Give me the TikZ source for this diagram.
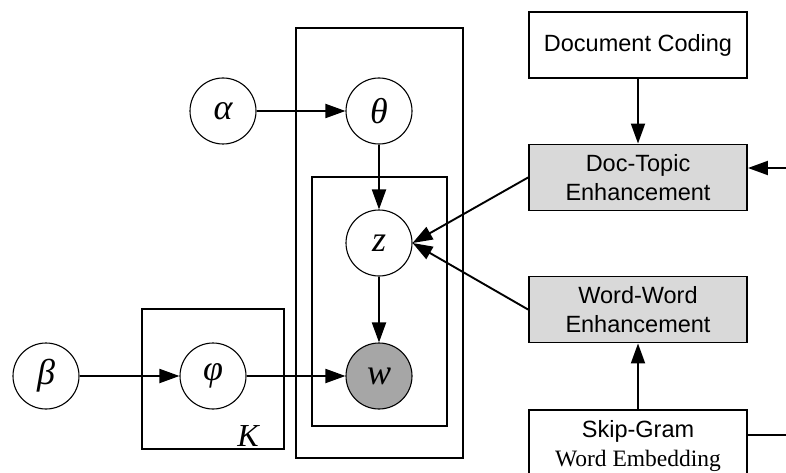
\documentclass[tikz,border=0pt]{standalone}
\usepackage{fontspec}
\setmainfont{Liberation Serif}
\setsansfont{Liberation Sans}
\usetikzlibrary{arrows.meta}

\definecolor{obsgray}{RGB}{166,166,166}
\definecolor{enhgray}{RGB}{217,217,217}

\tikzset{
  var/.style   = {circle, draw, line width=1.1pt, fill=white, minimum size=66pt, inner sep=0pt,
                  font=\fontsize{36}{36}\selectfont\itshape},
  obs/.style   = {var, fill=obsgray},
  block/.style = {rectangle, draw, fill=white, minimum width=218pt, minimum height=66pt,
                  inner sep=0pt, align=center, font=\sffamily\fontsize{23.5}{29}\selectfont},
  enh/.style   = {block, fill=enhgray},
  link/.style  = {-{Triangle[length=20pt,width=14pt]}},
}

\begin{document}
\begin{tikzpicture}[x=1pt, y=-1pt, line width=1.9pt]
            \useasboundingbox (0,0) rectangle (786,473);

            % draw plates
            \draw (142,309) rectangle (284,449);
            \draw (296, 28) rectangle (463,458);
            \draw (312,177) rectangle (447,426);
            \node[font=\fontsize{32}{32}\selectfont\itshape] (kplate) at (248,436) {K};

            % draw variables
            \node[var] (alpha) at (223,111) {α};
            \node[var] (theta) at (379,111) {θ};
            \node[var] (z)     at (379,243) {z};
            \node[obs] (w)     at (379,376) {w};
            \node[var] (beta)  at ( 46,376) {β};
            \node[var] (phi)   at (213,376) {φ};

            % draw enhancement blocks
            \node[block] (doccoding) at (638, 45.0) {Document Coding};
            \node[enh]   (doctopic)  at (638,177.5) {Doc-Topic\\Enhancement};
            \node[enh]   (wordword)  at (638,309.5) {Word-Word\\Enhancement};
            \node[block, anchor=north, minimum height=72pt]
                         (skipgram)  at (638,409.0) {Skip-Gram\\{\rmfamily Word Embedding}};
            \coordinate (dtin)  at (786,168);
            \coordinate (sgout) at (786,435);

            % draw links
            \draw[link] (alpha) -- (theta);
            \draw[link] (theta) -- (z);
            \draw[link] (z)     -- (w);
            \draw[link] (beta)  -- (phi);
            \draw[link] (phi)   -- (w);
            \draw[link] (doccoding) -- (doctopic);
            \draw[link] (skipgram)  -- (wordword);
            \draw[link] (doctopic.west) -- (z.east);
            \draw[link] (wordword.west) -- (z.east);
            \draw[link] (dtin) -- (dtin -| doctopic.east);
            \draw (sgout -| skipgram.east) -- (sgout);
        \end{tikzpicture}
\end{document}
